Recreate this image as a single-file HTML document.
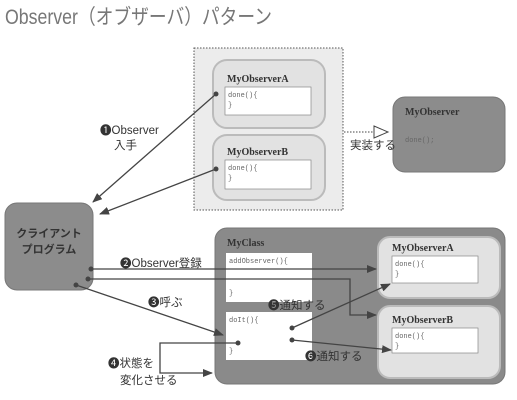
<!DOCTYPE html>
<html><head><meta charset="utf-8"><style>
body{margin:0;background:#fff;}
svg{display:block;font-family:"Liberation Sans","Noto Sans CJK JP",sans-serif;}
.t{font-family:"Liberation Serif","Noto Serif CJK SC",serif;font-weight:bold;font-size:10px;fill:#333;}
.m{font-family:"Liberation Mono",monospace;font-size:7px;fill:#666;}
.l{font-size:11.5px;fill:#333;}
</style></head><body>
<svg width="517" height="400" viewBox="0 0 517 400">
<defs>
<marker id="a" markerWidth="10" markerHeight="8" refX="9" refY="4" orient="auto" markerUnits="userSpaceOnUse"><path d="M0,0 L10,4 L0,8 Z" fill="#444"/></marker>
</defs>
<text x="5" y="24" font-size="21" fill="#777" textLength="267" lengthAdjust="spacingAndGlyphs">Observer（オブザーバ）パターン</text>
<rect x="194" y="48" width="149" height="162" fill="#ececec" stroke="#555" stroke-dasharray="1.5,1.5"/>
<rect x="213" y="60" width="112" height="68" rx="14" fill="#e2e2e2" stroke="#bbb" stroke-width="2"/>
<text class="t" x="227" y="82">MyObserverA</text>
<rect x="225" y="87" width="86" height="28" fill="#fff" stroke="#888" stroke-width="0.7"/>
<text class="m" x="228" y="97">done(){</text><text class="m" x="228" y="107">}</text>
<rect x="213" y="135" width="112" height="65" rx="14" fill="#e2e2e2" stroke="#bbb" stroke-width="2"/>
<text class="t" x="227" y="155">MyObserverB</text>
<rect x="225" y="160" width="86" height="29" fill="#fff" stroke="#888" stroke-width="0.7"/>
<text class="m" x="228" y="170">done(){</text><text class="m" x="228" y="180">}</text>
<rect x="393" y="97" width="112" height="75" rx="12" fill="#8c8c8c" stroke="#777"/>
<text class="t" x="405" y="115" fill="#444">MyObserver</text>
<text class="m" x="405" y="142" fill="#444">done();</text>
<line x1="344" y1="132" x2="374" y2="132" stroke="#444" stroke-dasharray="1.5,1.5"/>
<path d="M374,126 L388,132 L374,138 Z" fill="#fff" stroke="#444"/>
<text class="l" x="350" y="149">実装する</text>
<rect x="5" y="203" width="88" height="87" rx="12" fill="#8c8c8c" stroke="#777"/>
<text x="49" y="237" text-anchor="middle" font-size="11" font-weight="bold" fill="#333">クライアント</text>
<text x="49" y="253" text-anchor="middle" font-size="11" font-weight="bold" fill="#333">プログラム</text>
<line x1="216" y1="94" x2="93" y2="202" stroke="#444" stroke-width="1.3" marker-end="url(#a)"/>
<line x1="216" y1="169" x2="100" y2="214" stroke="#444" stroke-width="1.3" marker-end="url(#a)"/>
<circle cx="216" cy="94" r="2.5" fill="#444"/><circle cx="216" cy="169" r="2.5" fill="#444"/>
<text class="l" x="100" y="134">❶Observer</text>
<text class="l" x="114" y="149">入手</text>
<rect x="215" y="228" width="290" height="156" rx="12" fill="#8a8a8a" stroke="#777"/>
<text class="t" x="227" y="246">MyClass</text>
<rect x="226" y="253" width="86" height="49" fill="#fff"/>
<text class="m" x="229" y="263">addObserver(){</text><text class="m" x="229" y="295">}</text>
<rect x="226" y="312" width="86" height="48" fill="#fff"/>
<text class="m" x="229" y="322">doIt(){</text><text class="m" x="229" y="353">}</text>
<rect x="378" y="237" width="122" height="61" rx="12" fill="#e2e2e2" stroke="#bbb" stroke-width="2"/>
<text class="t" x="392" y="251">MyObserverA</text>
<rect x="392" y="256" width="86" height="27" fill="#fff" stroke="#888" stroke-width="0.7"/>
<text class="m" x="395" y="266">done(){</text><text class="m" x="395" y="276">}</text>
<rect x="378" y="306" width="122" height="72" rx="12" fill="#e2e2e2" stroke="#bbb" stroke-width="2"/>
<text class="t" x="392" y="323">MyObserverB</text>
<rect x="392" y="328" width="86" height="25" fill="#fff" stroke="#888" stroke-width="0.7"/>
<text class="m" x="395" y="338">done(){</text><text class="m" x="395" y="348">}</text>
<line x1="91" y1="269" x2="376" y2="269" stroke="#444" stroke-width="1.3" marker-end="url(#a)"/>
<polyline points="88,279 350,279 350,315 376,315" fill="none" stroke="#444" stroke-width="1.3" marker-end="url(#a)"/>
<line x1="76" y1="285" x2="223" y2="335" stroke="#444" stroke-width="1.3" marker-end="url(#a)"/>
<polyline points="238,343 160,343 160,373 212,373" fill="none" stroke="#444" stroke-width="1.3" marker-end="url(#a)"/>
<line x1="292" y1="328" x2="390" y2="284" stroke="#444" stroke-width="1.3" marker-end="url(#a)"/>
<line x1="292" y1="340" x2="391" y2="350" stroke="#444" stroke-width="1.3" marker-end="url(#a)"/>
<circle cx="91" cy="269" r="2.5" fill="#444"/><circle cx="88" cy="279" r="2.5" fill="#444"/><circle cx="76" cy="285" r="2.5" fill="#444"/>
<circle cx="238" cy="343" r="2.5" fill="#444"/><circle cx="292" cy="328" r="2.5" fill="#444"/><circle cx="292" cy="340" r="2.5" fill="#444"/>
<text class="l" x="120" y="267">❷Observer登録</text>
<text class="l" x="148" y="306">❸呼ぶ</text>
<text class="l" x="268" y="309">❺通知する</text>
<text class="l" x="305" y="360">❻通知する</text>
<text class="l" x="108" y="367">❹状態を</text>
<text class="l" x="120" y="384">変化させる</text>
</svg>
</body></html>
